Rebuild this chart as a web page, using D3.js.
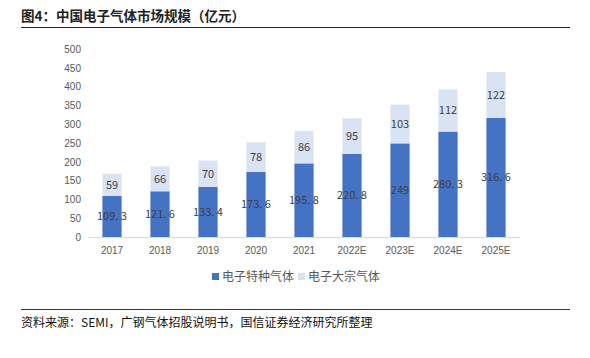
<!DOCTYPE html>
<html>
<head>
<meta charset="utf-8">
<script src="https://cdn.jsdelivr.net/npm/d3@7"></script>
<style>
  body { margin: 0; background: #fff; }
  svg { display: block; font-family: "Noto Sans CJK SC", "Noto Sans", sans-serif; }
</style>
</head>
<body>
<div id="chart"></div>
<script>
var chart_width = 590
var chart_height = 358

var years = ['2017', '2018', '2019', '2020', '2021', '2022E', '2023E', '2024E', '2025E']
var special_gas = [109.3, 121.6, 133.4, 173.6, 195.8, 220.8, 249, 280.3, 316.6]
var bulk_gas = [59, 66, 70, 78, 86, 95, 103, 112, 122]
var y_ticks = [0, 50, 100, 150, 200, 250, 300, 350, 400, 450, 500]
var series_names = ['电子特种气体', '电子大宗气体']
var colors = ['#4472C4', '#DAE3F3']

var svg = d3.select('#chart')
  .append('svg')
  .attr('width', chart_width)
  .attr('height', chart_height)

// title + rules
svg.append('text')
  .attr('x', 21)
  .attr('y', 21)
  .attr('font-size', 13.5)
  .attr('font-weight', 600)
  .attr('fill', '#222')
  .text('图4：中国电子气体市场规模（亿元）')

svg.append('line')
  .attr('x1', 21).attr('x2', 570)
  .attr('y1', 27.5).attr('y2', 27.5)
  .attr('stroke', '#222')
  .attr('stroke-width', 1)

svg.append('line')
  .attr('x1', 21).attr('x2', 570)
  .attr('y1', 309.5).attr('y2', 309.5)
  .attr('stroke', '#333')
  .attr('stroke-width', 1)

svg.append('text')
  .attr('x', 21)
  .attr('y', 327)
  .attr('font-size', 12)
  .attr('fill', '#111')
  .text('资料来源：SEMI，广钢气体招股说明书，国信证券经济研究所整理')

// scales
var x_scale = d3.scaleBand()
  .domain(years)
  .range([88, 520])
  .paddingInner(0.6)
  .paddingOuter(0.3)

var y_scale = d3.scaleLinear()
  .domain([0, 500])
  .range([237, 49])

// y axis (labels only)
var y_axis = d3.axisLeft(y_scale)
  .tickValues(y_ticks)
  .tickSize(0)
  .tickPadding(0)
svg.append('g')
  .attr('class', 'y-axis')
  .attr('transform', 'translate(81, 0)')
  .call(y_axis)
  .call(g => g.select('.domain').remove())
  .call(g => g.selectAll('text').attr('font-size', 10).attr('fill', '#595959'))

// x axis
var x_axis = d3.axisBottom(x_scale)
  .tickSize(0)
  .tickPadding(10)
svg.append('g')
  .attr('class', 'x-axis')
  .attr('transform', 'translate(0, ' + y_scale(0) + ')')
  .call(x_axis)
  .call(g => g.select('.domain').attr('stroke', '#D9D9D9'))
  .call(g => g.selectAll('text').attr('font-size', 10).attr('fill', '#595959'))

// stacked bars
var rows = years.map(function(y, i) {
  return { year: y, special: special_gas[i], bulk: bulk_gas[i] }
})
var keys = ['special', 'bulk']
var stack = d3.stack().keys(keys)(rows)

var layers = svg.append('g')
  .selectAll('g')
  .data(stack)
  .join('g')
  .attr('fill', (d, i) => colors[i])

layers.selectAll('rect')
  .data(d => d)
  .join('rect')
  .attr('x', d => x_scale(d.data.year))
  .attr('y', d => y_scale(d[1]))
  .attr('width', x_scale.bandwidth())
  .attr('height', d => y_scale(d[0]) - y_scale(d[1]))

// value labels (decimal point followed by a space, as in the source)
var fmt = function(v) {
  return String(v).replace('.', '. ')
}
layers.each(function(layer) {
  d3.select(this).selectAll('text')
    .data(layer)
    .join('text')
    .attr('x', d => x_scale(d.data.year) + x_scale.bandwidth() / 2)
    .attr('y', d => (y_scale(d[0]) + y_scale(d[1])) / 2)
    .attr('dy', '0.35em')
    .attr('text-anchor', 'middle')
    .attr('font-size', 11)
    .attr('fill', '#404040')
    .text(d => fmt(d.data[layer.key]))
})

// legend
var legend = svg.append('g')
  .attr('transform', 'translate(212, 277)')
var legend_x = [0, 86]
series_names.forEach(function(name, i) {
  var g = legend.append('g').attr('transform', 'translate(' + legend_x[i] + ', 0)')
  g.append('rect')
    .attr('x', 0).attr('y', -4)
    .attr('width', 7).attr('height', 7)
    .attr('fill', colors[i])
  g.append('text')
    .attr('x', 10)
    .attr('y', 0)
    .attr('dy', '0.35em')
    .attr('font-size', 12)
    .attr('fill', '#595959')
    .text(name)
})
</script>
</body>
</html>
